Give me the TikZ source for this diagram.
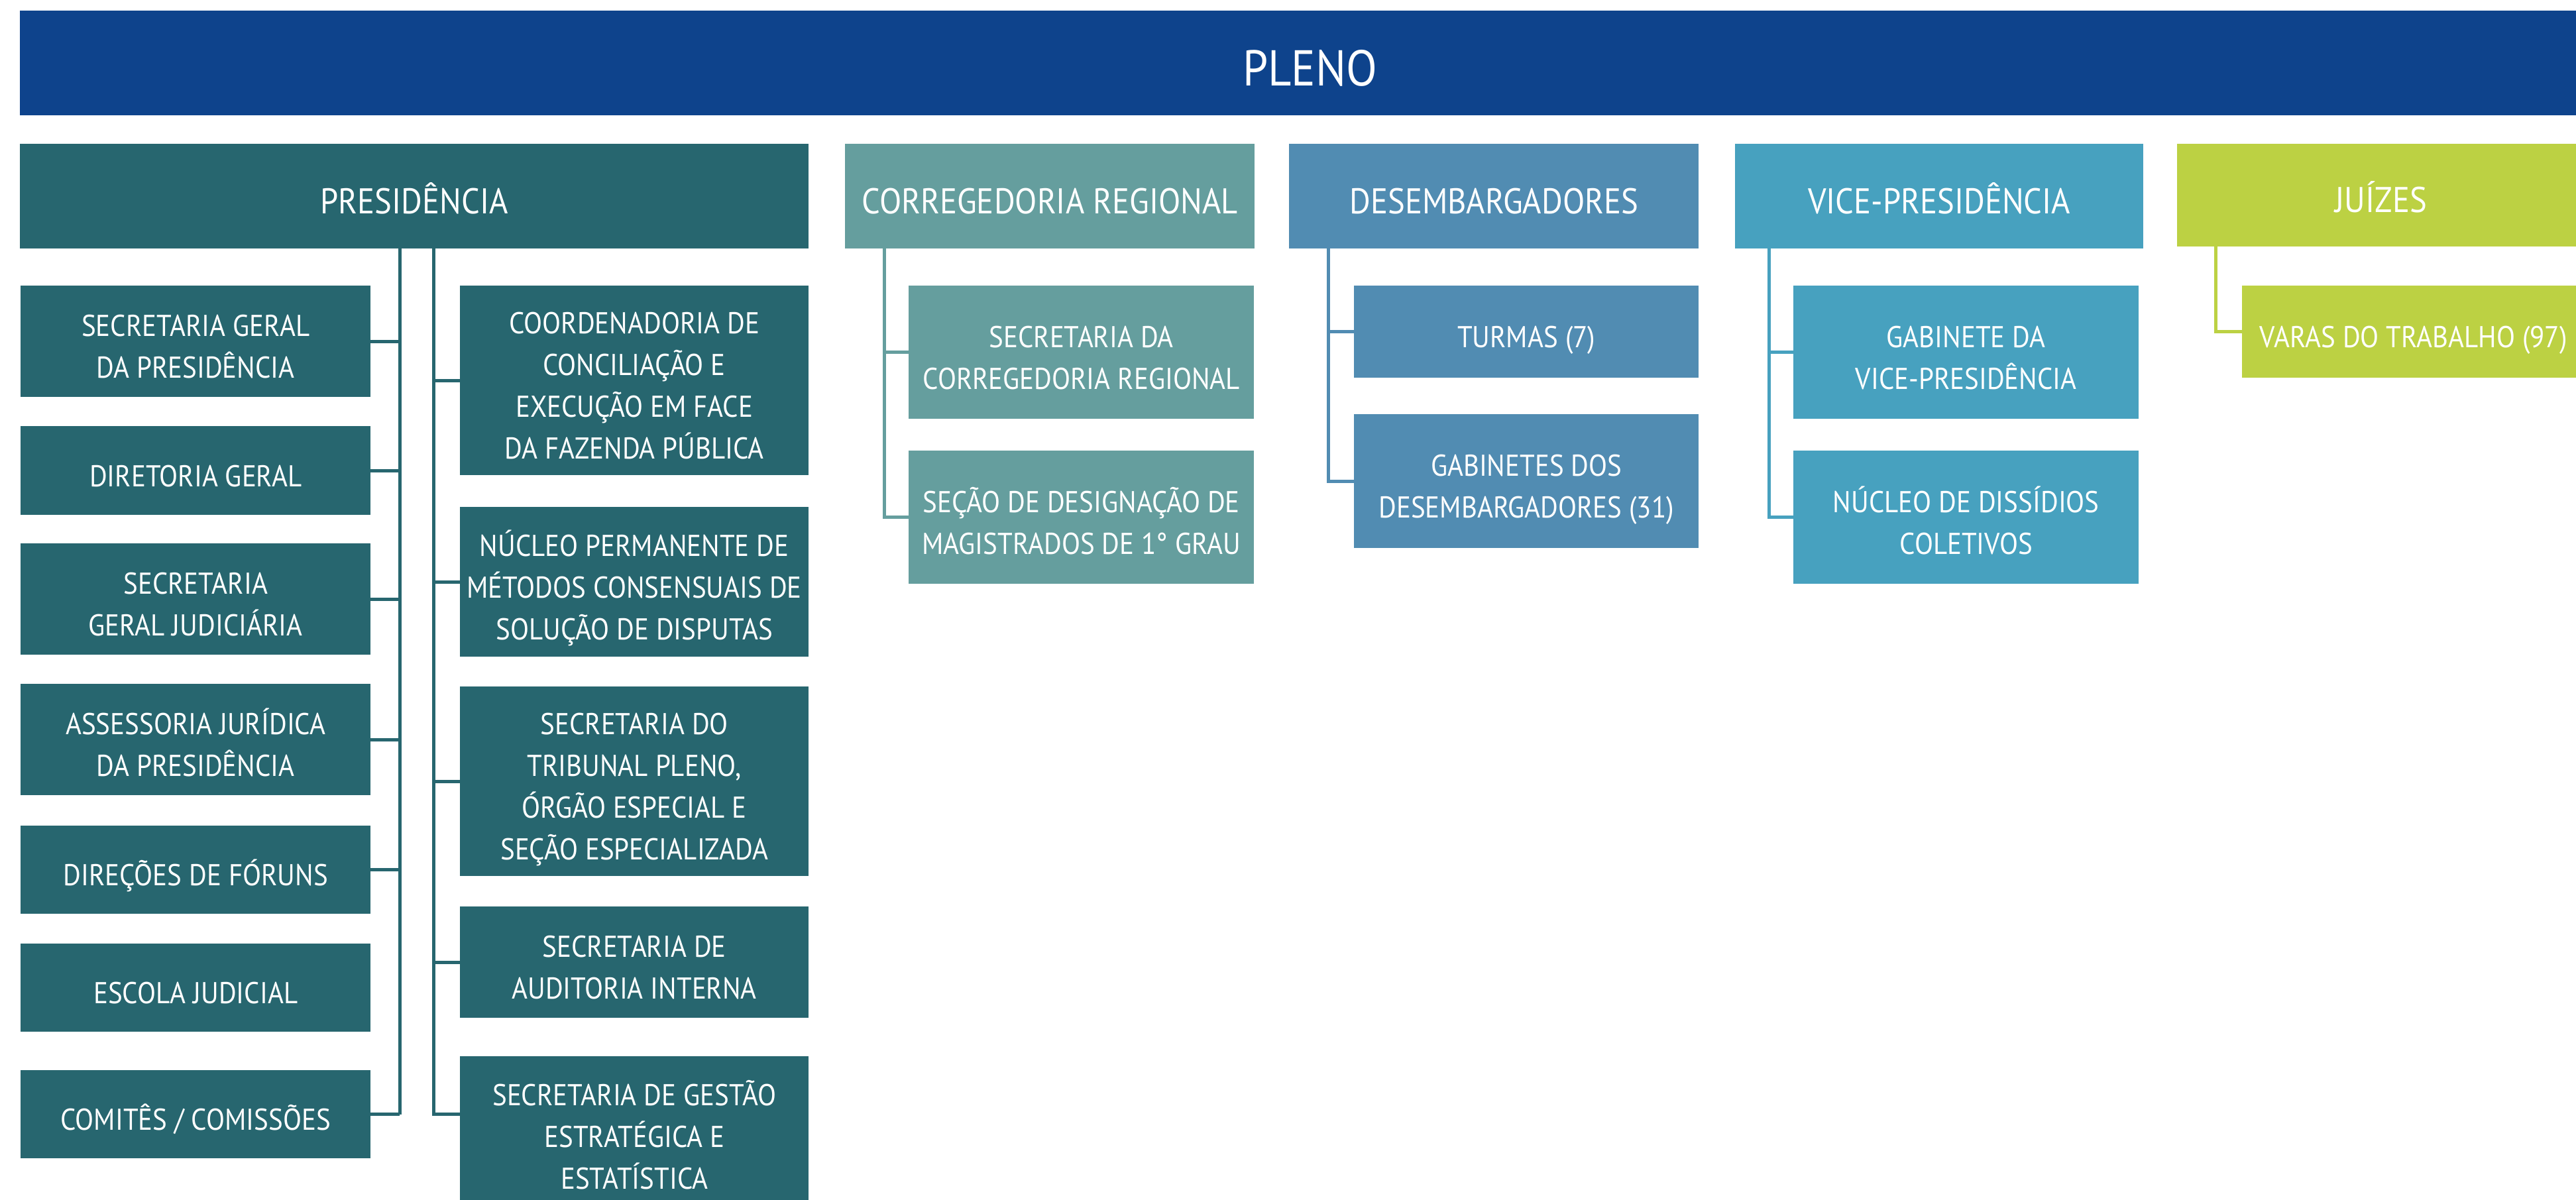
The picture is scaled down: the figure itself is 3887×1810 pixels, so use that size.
\documentclass[tikz,border=0pt]{standalone}
\usepackage{fontspec}
\setmainfont{PT Sans}[FakeStretch=0.9]
\newfontfamily\plenofont{PT Sans}[FakeStretch=0.9]
\definecolor{cpleno}{HTML}{0E438C}
\definecolor{cpres}{HTML}{27666F}
\definecolor{ccorr}{HTML}{659E9E}
\definecolor{cdes}{HTML}{518CB2}
\definecolor{cvice}{HTML}{47A1BF}
\definecolor{cjuiz}{HTML}{BCD143}
\newcommand\sT{\rule{0pt}{59.6pt}}
\newcommand\hT{\rule{0pt}{63.8pt}}
\newcommand\pT{\rule{0pt}{81pt}}
\newcommand\bD{\rule[-12pt]{0pt}{12pt}}
\tikzset{
  box/.style={anchor=north west, inner sep=0pt, align=center, text=white, draw=none},
  head/.style={box, font=\fontsize{54}{60}\selectfont},
  sub/.style={box, font=\fontsize{45.5}{63}\selectfont},
  conn/.style={line width=5pt},
}
\begin{document}
\begin{tikzpicture}[x=1pt,y=-1pt]
\useasboundingbox (0,0) rectangle (3887,1810);
\clip (0,0) rectangle (3887,1810);
\fill[white] (0,0) rectangle (3887,1810);
% PLENO
\node[box, fill=cpleno, minimum width=3875pt, minimum height=158pt, font=\plenofont\fontsize{76}{80}\selectfont] (pleno) at (30,16) {\pT\hspace{18pt}PLENO\bD};
% headers
\node[head, fill=cpres, minimum width=1190pt, minimum height=158pt] (pres) at (30,217) {\hT PRESIDÊNCIA\bD};
\node[head, fill=ccorr, minimum width=618pt, minimum height=158pt] (corr) at (1275,217) {\hT CORREGEDORIA REGIONAL\bD};
\node[head, fill=cdes, minimum width=618pt, minimum height=158pt] (des) at (1945,217) {\hT DESEMBARGADORES\bD};
\node[head, fill=cvice, minimum width=616pt, minimum height=158pt] (vice) at (2618,217) {\hT VICE-PRESIDÊNCIA\bD};
\node[head, fill=cjuiz, minimum width=615pt, minimum height=155pt] (juiz) at (3285,217) {\hT JUÍZES\bD};
% Presidencia left column
\node[sub, fill=cpres, minimum width=528pt, minimum height=168pt] (sgp) at (31,431) {\sT SECRETARIA GERAL\\DA PRESIDÊNCIA\bD};
\node[sub, fill=cpres, minimum width=528pt, minimum height=134pt] (dg) at (31,643) {\sT DIRETORIA GERAL\bD};
\node[sub, fill=cpres, minimum width=528pt, minimum height=168pt] (sgj) at (31,820) {\sT SECRETARIA\\GERAL JUDICIÁRIA\bD};
\node[sub, fill=cpres, minimum width=528pt, minimum height=168pt] (asj) at (31,1032) {\sT ASSESSORIA JURÍDICA\\DA PRESIDÊNCIA\bD};
\node[sub, fill=cpres, minimum width=528pt, minimum height=133pt] (dfor) at (31,1246) {\sT DIREÇÕES DE FÓRUNS\bD};
\node[sub, fill=cpres, minimum width=528pt, minimum height=133pt] (esc) at (31,1424) {\sT ESCOLA JUDICIAL\bD};
\node[sub, fill=cpres, minimum width=528pt, minimum height=133pt] (com) at (31,1615) {\sT COMITÊS / COMISSÕES\bD};
% Presidencia right column
\node[sub, fill=cpres, minimum width=526pt, minimum height=286pt] (coord) at (694,431) {\sT COORDENADORIA DE\\CONCILIAÇÃO E\\EXECUÇÃO EM FACE\\DA FAZENDA PÚBLICA\bD};
\node[sub, fill=cpres, minimum width=526pt, minimum height=226pt] (nuc) at (694,765) {\sT NÚCLEO PERMANENTE DE\\MÉTODOS CONSENSUAIS DE\\SOLUÇÃO DE DISPUTAS\bD};
\node[sub, fill=cpres, minimum width=526pt, minimum height=286pt] (trib) at (694,1036) {\sT SECRETARIA DO\\TRIBUNAL PLENO,\\ÓRGÃO ESPECIAL E\\SEÇÃO ESPECIALIZADA\bD};
\node[sub, fill=cpres, minimum width=526pt, minimum height=168pt] (aud) at (694,1368) {\sT SECRETARIA DE\\AUDITORIA INTERNA\bD};
\node[sub, fill=cpres, minimum width=526pt, minimum height=226pt] (gest) at (694,1594) {\sT SECRETARIA DE GESTÃO\\ESTRATÉGICA E\\ESTATÍSTICA\bD};
% Corregedoria
\node[sub, fill=ccorr, minimum width=521pt, minimum height=201pt] (scr) at (1371,431) {\sT SECRETARIA DA\\CORREGEDORIA REGIONAL\bD};
\node[sub, fill=ccorr, minimum width=521pt, minimum height=201pt] (sdm) at (1371,680) {\sT SEÇÃO DE DESIGNAÇÃO DE\\MAGISTRADOS DE 1° GRAU\bD};
% Desembargadores
\node[sub, fill=cdes, minimum width=520pt, minimum height=139pt] (tur) at (2043,431) {\sT TURMAS (7)\bD};
\node[sub, fill=cdes, minimum width=520pt, minimum height=202pt] (gdes) at (2043,625) {\sT GABINETES DOS\\DESEMBARGADORES (31)\bD};
% Vice
\node[sub, fill=cvice, minimum width=521pt, minimum height=201pt] (gvp) at (2706,431) {\sT GABINETE DA\\VICE-PRESIDÊNCIA\bD};
\node[sub, fill=cvice, minimum width=521pt, minimum height=201pt] (ndc) at (2706,680) {\sT NÚCLEO DE DISSÍDIOS\\COLETIVOS\bD};
% Juizes
\node[sub, fill=cjuiz, minimum width=517pt, minimum height=139pt] (vt) at (3383,431) {\sT VARAS DO TRABALHO (97)\bD};
% trunk coordinates
\coordinate (pL) at (603,0);
\coordinate (pR) at (654,0);
\coordinate (cX) at (1334,0);
\coordinate (dX) at (2004,0);
\coordinate (vX) at (2669,0);
\coordinate (jX) at (3343,0);
% Presidencia connectors
\draw[conn, cpres] (pres.south -| pL) -- (com.east -| pL);
\foreach \n in {sgp,dg,sgj,asj,dfor,com}{\draw[conn, cpres] (\n.east -| pL) -- (\n.east);}
\coordinate (gend) at (gest.west |- com.east);
\draw[conn, cpres] (pres.south -| pR) -- (gend -| pR) -- (gend);
\foreach \n in {coord,nuc,trib,aud}{\draw[conn, cpres] (\n.west -| pR) -- (\n.west);}
% Corregedoria connectors
\draw[conn, ccorr] (corr.south -| cX) -- (sdm.west -| cX) -- (sdm.west);
\draw[conn, ccorr] (scr.west -| cX) -- (scr.west);
% Desembargadores connectors
\draw[conn, cdes] (des.south -| dX) -- (gdes.west -| dX) -- (gdes.west);
\draw[conn, cdes] (tur.west -| dX) -- (tur.west);
% Vice connectors
\draw[conn, cvice] (vice.south -| vX) -- (ndc.west -| vX) -- (ndc.west);
\draw[conn, cvice] (gvp.west -| vX) -- (gvp.west);
% Juizes connector
\draw[conn, cjuiz] (juiz.south -| jX) -- (vt.west -| jX) -- (vt.west);
\end{tikzpicture}
\end{document}
